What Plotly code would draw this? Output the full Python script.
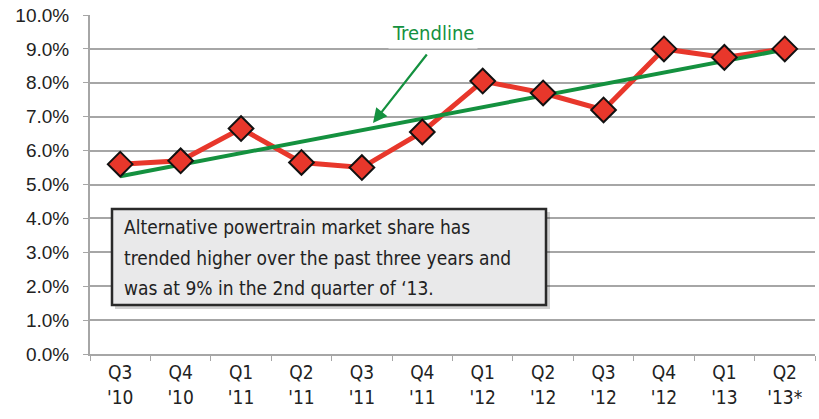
import numpy as np
import plotly.graph_objects as go

quarters = ["Q3<br>'10", "Q4<br>'10", "Q1<br>'11", "Q2<br>'11", "Q3<br>'11", "Q4<br>'11",
            "Q1<br>'12", "Q2<br>'12", "Q3<br>'12", "Q4<br>'12", "Q1<br>'13", "Q2<br>'13*"]
share = [5.6, 5.7, 6.65, 5.65, 5.5, 6.55, 8.05, 7.7, 7.2, 9.0, 8.75, 9.0]

box_lines = ["Alternative powertrain market share has",
             "trended higher over the past three years and",
             "was at 9% in the 2nd quarter of \u201813."]

idx = np.arange(len(share))
slope, intercept = np.polyfit(idx, share, 1)
trend = [intercept, intercept + slope * idx[-1]]

RED = "#e8372b"
GREEN = "#14913f"
GRID = "#a6a6a6"
FONT = "DejaVu Sans Condensed, sans-serif"

fig = go.Figure()
fig.add_trace(go.Scatter(x=quarters, y=share, mode="lines",
                         line=dict(color=RED, width=5), hoverinfo="skip"))
fig.add_trace(go.Scatter(x=[quarters[0], quarters[-1]], y=trend, mode="lines",
                         line=dict(color=GREEN, width=4), hoverinfo="skip"))
fig.add_trace(go.Scatter(x=quarters, y=share, mode="markers",
                         marker=dict(symbol="diamond", size=19, color=RED,
                                     line=dict(color="#111111", width=2))))

W, H = 819, 419
PL, PR, PT, PB = 90, 815, 15, 354   # plot area in screen pixels
L, T, B, R = PL, PT, H - PB, W - PR
pw, ph = PR - PL, PB - PT
def px(X):
    return (X - PL) / pw
def py(Y):
    return (PB - Y) / ph

# shadow + box
fig.add_shape(type="rect", xref="paper", yref="paper",
              x0=px(115), x1=px(550), y0=py(309), y1=py(212),
              fillcolor="rgba(0,0,0,0.18)", line=dict(width=0), layer="above")
fig.add_shape(type="rect", xref="paper", yref="paper",
              x0=px(112), x1=px(546), y0=py(305), y1=py(209),
              fillcolor="#e9e9ea", line=dict(color="#2a2a2a", width=2.5), layer="above")
for i, (t, yy) in enumerate(zip(box_lines, [227, 258, 288])):
    fig.add_annotation(text=t, xref="paper", yref="paper", x=px(122), y=py(yy),
                       xanchor="left", yanchor="middle", showarrow=False,
                       font=dict(family=FONT, size=19, color="#222222"))

fig.add_annotation(text="Trendline", xref="paper", yref="paper", x=px(433), y=py(33),
                   xanchor="center", yanchor="middle", showarrow=False,
                   bgcolor="white", borderpad=3,
                   font=dict(family=FONT, size=20, color=GREEN))
fig.add_annotation(text="", xref="paper", yref="paper", x=px(373), y=py(123),
                   ax=55, ay=-70, showarrow=True, arrowhead=2, arrowsize=1.3,
                   arrowwidth=2.2, arrowcolor=GREEN)

fig.update_layout(
    width=W, height=H, margin=dict(l=L, r=R, t=T, b=B),
    paper_bgcolor="white", plot_bgcolor="white", showlegend=False,
    xaxis=dict(type="category", range=[-0.5, 11.5], showgrid=False, automargin=False,
               showline=True, linecolor=GRID, linewidth=2,
               ticks="outside", tickson="boundaries", ticklen=5, tickcolor=GRID,
               tickfont=dict(family=FONT, size=19, color="#222222")),
    yaxis=dict(range=[0, 10], dtick=1, tickformat=".1f", ticksuffix="%", automargin=False,
               showgrid=True, gridcolor=GRID, gridwidth=2, ticklabeloverflow="allow",
               showline=True, linecolor=GRID, linewidth=2, ticklabelstandoff=10,
               ticks="outside", ticklen=5, tickcolor=GRID, zeroline=False,
               tickfont=dict(family="Liberation Sans, Arial, sans-serif", size=19, color="#222222")),
)

fig.write_html("out.html", config={"displayModeBar": False},
               post_script="document.body.style.margin='0';document.body.style.overflow='hidden';")
